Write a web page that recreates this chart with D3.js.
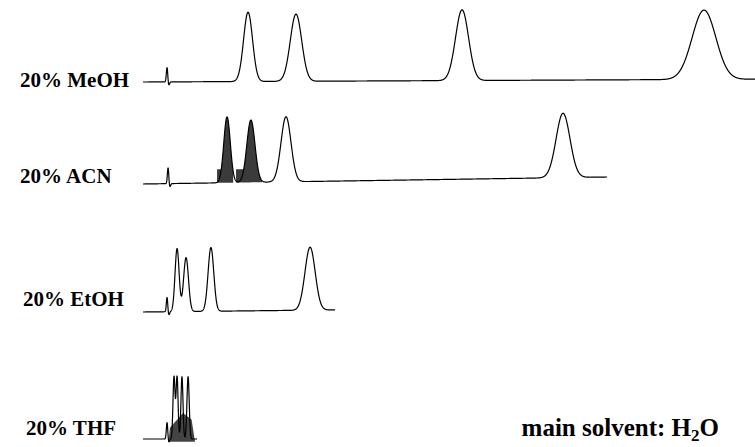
<!DOCTYPE html>
<html>
<head>
<meta charset="utf-8">
<script src="https://cdn.jsdelivr.net/npm/d3@7"></script>
<style>
  html, body { margin: 0; padding: 0; background: #fff; }
  svg { display: block; }
</style>
</head>
<body>
<svg id="chart" width="755" height="447"></svg>
<script>
// ---- data (time in min, signal in mAU-like units) ----
const solvents = ["20% MeOH", "20% ACN", "20% EtOH", "20% THF"];
const runEnd = [30, 22.75, 9.41, 2.65];
const baselineDrift = [4, 10, 3, 0];   // baseline change from start to end of run
// peak lists: retention time, height, width (sigma)
const meohPeaks = [
  {t: 1.18, h: 21, w: 0.035}, {t: 1.26, h: -5, w: 0.04},
  {t: 5.15, h: 99, w: 0.22}, {t: 7.50, h: 96, w: 0.28},
  {t: 15.64, h: 101, w: 0.32}, {t: 27.50, h: 99, w: 0.58}
];
const acnPeaks = [
  {t: 1.23, h: 23, w: 0.035}, {t: 1.31, h: -5, w: 0.04},
  {t: 4.12, h: 94, w: 0.16}, {t: 5.29, h: 89, w: 0.20},
  {t: 7.01, h: 93, w: 0.245}, {t: 20.59, h: 92, w: 0.34}
];
const etohPeaks = [
  {t: 1.18, h: 21, w: 0.035}, {t: 1.26, h: -5, w: 0.04},
  {t: 1.67, h: 90, w: 0.10}, {t: 2.11, h: 77, w: 0.12},
  {t: 3.33, h: 91, w: 0.14}, {t: 8.19, h: 90, w: 0.25}
];
const thfPeaks = [
  {t: 1.18, h: 24, w: 0.035}, {t: 1.26, h: -5, w: 0.04},
  {t: 1.52, h: 89, w: 0.05}, {t: 1.67, h: 89, w: 0.05},
  {t: 1.91, h: 89, w: 0.05}, {t: 2.21, h: 89, w: 0.055}
];
// shaded (collected) fractions in ACN run: start, peak apex, end, shoulder level
const acnShadeStart = [3.63, 4.56];
const acnShadeApex = [4.12, 5.29];
const acnShadeEnd = [4.42, 5.83];
const acnShadeLevel = [21, 21];
// shaded envelope in THF run
const thfShadeT = [1.25, 1.32, 1.96, 2.38, 2.55];
const thfShadeV = [-4, 16, 37, 28, -4];

const peakSets = [meohPeaks, acnPeaks, etohPeaks, thfPeaks];

// ---- layout ----
const svg = d3.select("#chart");
const x = d3.scaleLinear().domain([0, 30]).range([143, 755]);
const baseY = [82, 184, 312, 439];
const labelX = [20, 20, 23, 26];
const labelY = [87, 183, 306, 435];
const amp = d3.scaleLinear().domain([0, 100]).range([0, -70]);

function signal(peaks, drift, end, t) {
  let v = drift * t / end;
  for (const p of peaks) v += p.h * Math.exp(-0.5 * ((t - p.t) / p.w) ** 2);
  return v;
}

peakSets.forEach((peaks, i) => {
  const end = runEnd[i];
  const y = v => baseY[i] + amp(v);
  const ts = d3.range(0, end + 1e-9, 0.005);
  const pts = ts.map(t => [t, signal(peaks, baselineDrift[i], end, t)]);
  const g = svg.append("g");

  if (i === 1) {
    acnShadeStart.forEach((s, k) => {
      const seg = d3.range(s, acnShadeEnd[k] + 1e-9, 0.005).map(t => {
        const v = signal(peaks, baselineDrift[i], end, t);
        const top = t < acnShadeApex[k] ? Math.max(v, acnShadeLevel[k]) : v;
        return {t, top, bot: baselineDrift[i] * t / end};
      });
      g.append("path")
        .attr("d", d3.area().x(d => x(d.t)).y0(d => y(d.bot)).y1(d => y(d.top))(seg))
        .attr("fill", "#3b3b3b");
    });
  }
  if (i === 3) {
    const env = thfShadeT.map((t, k) => [x(t), y(thfShadeV[k])]);
    g.append("path")
      .attr("d", d3.line()(env) + "Z")
      .attr("fill", "#444");
  }

  g.append("path")
    .attr("d", d3.line().x(d => x(d[0])).y(d => y(d[1]))(pts))
    .attr("fill", "none")
    .attr("stroke", "#000")
    .attr("stroke-width", 1.2)
    .attr("stroke-linejoin", "round");

  svg.append("text")
    .attr("x", labelX[i]).attr("y", labelY[i])
    .attr("font-family", "'Liberation Serif', 'Times New Roman', serif")
    .attr("font-weight", "bold").attr("font-size", 21)
    .attr("fill", "#000")
    .text(solvents[i]);
});

const mt = svg.append("text")
  .attr("x", 719).attr("y", 436)
  .attr("text-anchor", "end")
  .attr("font-family", "'Liberation Serif', 'Times New Roman', serif")
  .attr("font-weight", "bold").attr("font-size", 25)
  .attr("fill", "#000");
mt.append("tspan").text("main solvent: H");
mt.append("tspan").attr("font-size", 17).attr("dy", 5).text("2");
mt.append("tspan").attr("dy", -5).text("O");
</script>
</body>
</html>
